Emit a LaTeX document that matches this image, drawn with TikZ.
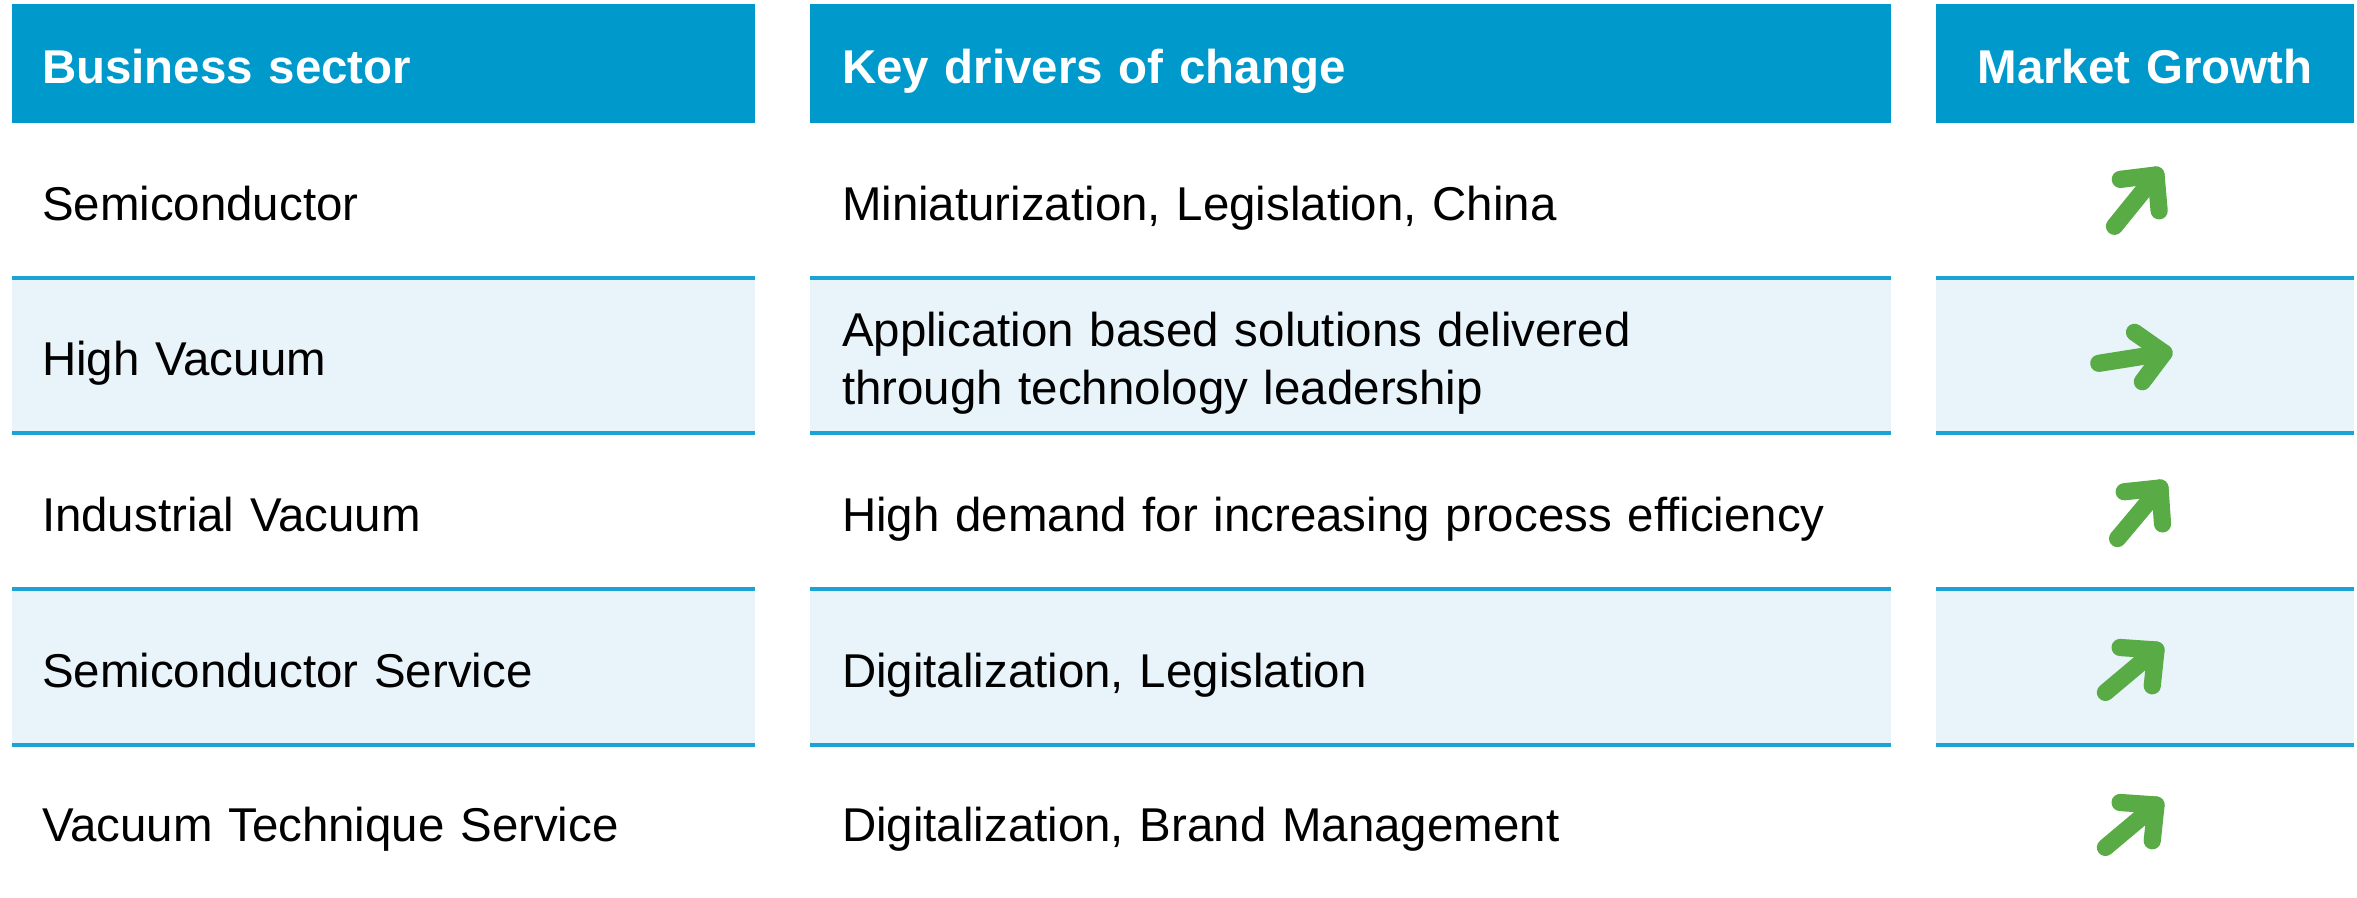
\documentclass[tikz,border=0pt]{standalone}
\usepackage{fontspec}
\setmainfont{Liberation Sans}
\usetikzlibrary{calc}

\definecolor{headblue}{HTML}{0099CC}
\definecolor{rowtint}{HTML}{E8F3FA}
\definecolor{ruleblue}{HTML}{1AA3D4}
\definecolor{growgreen}{HTML}{59AC45}

\newcommand{\topstrut}{\rule{0pt}{15.4pt}}
\newcommand{\botstrut}{\rule[-4pt]{0pt}{4pt}}

% green arrow: name, corner of the head, direction
\newcommand{\growtharrow}[3]{%
  \coordinate (#1) at #2;
  \draw[growline] ($(#1)+(#3+180:0.66)$) -- (#1);
  \draw[growline] ($(#1)+(#3+136:0.36)$) -- (#1) -- ($(#1)+(#3-136:0.36)$);
}

\begin{document}
\begin{tikzpicture}[
  head/.style = {fill = headblue, text = white, anchor = north west, outer sep = 0pt,
    minimum height = 1.19cm, inner ysep = 0pt, inner xsep = 0.30cm,
    font = \fontsize{13.5}{16.5}\selectfont\bfseries, align = left,
    execute at begin node = \topstrut, execute at end node = \botstrut},
  cell/.style = {anchor = north west, outer sep = 0pt, minimum height = 1.55cm,
    inner ysep = 0pt, inner xsep = 0.30cm,
    font = \fontsize{13.5}{16.6}\selectfont, align = left,
    execute at begin node = \topstrut, execute at end node = \botstrut},
  tint/.style = {fill = rowtint},
  rowline/.style = {draw = ruleblue, line width = 1pt},
  growline/.style = {draw = growgreen, line width = 4.9pt, line cap = round, line join = round}
]
  \useasboundingbox[fill = white] (0, 0) rectangle (23.57, 8.97);

  % header
  \node[head, text width = 6.83cm] (hsector) at (0.12, 8.93) {Business sector};
  \node[head, text width = 10.17cm, inner xsep = 0.32cm] (hdrivers) at (8.10, 8.93) {Key drivers of change};
  \node[head, text width = 3.58cm, align = center] (hgrowth) at (19.36, 8.93) {Market Growth};

  % rows
  \node[cell, text width = 6.83cm] (sec1) at (0.12, 7.74) {Semiconductor};
  \node[cell, text width = 10.17cm, inner xsep = 0.32cm] (drv1) at (8.10, 7.74) {Miniaturization, Legislation, China};
  \node[cell, text width = 3.58cm] (grw1) at (19.36, 7.74) {};

  \node[cell, tint, text width = 6.83cm] (sec2) at (0.12, 6.19) {High Vacuum};
  \node[cell, tint, text width = 10.17cm, inner xsep = 0.32cm] (drv2) at (8.10, 6.19)
    {Application based solutions delivered\\through technology leadership};
  \node[cell, tint, text width = 3.58cm] (grw2) at (19.36, 6.19) {};

  \node[cell, text width = 6.83cm, minimum height = 1.56cm] (sec3) at (0.12, 4.64) {Industrial Vacuum};
  \node[cell, text width = 10.17cm, inner xsep = 0.32cm, minimum height = 1.56cm] (drv3) at (8.10, 4.64)
    {High demand for increasing process efficiency};
  \node[cell, text width = 3.58cm, minimum height = 1.56cm] (grw3) at (19.36, 4.64) {};

  \node[cell, tint, text width = 6.83cm, minimum height = 1.56cm] (sec4) at (0.12, 3.08) {Semiconductor Service};
  \node[cell, tint, text width = 10.17cm, inner xsep = 0.32cm, minimum height = 1.56cm] (drv4) at (8.10, 3.08)
    {Digitalization, Legislation};
  \node[cell, tint, text width = 3.58cm, minimum height = 1.56cm] (grw4) at (19.36, 3.08) {};

  \node[cell, text width = 6.83cm, minimum height = 1.52cm] (sec5) at (0.12, 1.52) {Vacuum Technique Service};
  \node[cell, text width = 10.17cm, inner xsep = 0.32cm, minimum height = 1.52cm] (drv5) at (8.10, 1.52)
    {Digitalization, Brand Management};
  \node[cell, text width = 3.58cm, minimum height = 1.52cm] (grw5) at (19.36, 1.52) {};

  % row rules
  \draw[rowline]
  (sec2.north west) -- (sec2.north east) (drv2.north west) -- (drv2.north east) (grw2.north west) -- (grw2.north east)
  (sec3.north west) -- (sec3.north east) (drv3.north west) -- (drv3.north east) (grw3.north west) -- (grw3.north east)
  (sec4.north west) -- (sec4.north east) (drv4.north west) -- (drv4.north east) (grw4.north west) -- (grw4.north east)
  (sec5.north west) -- (sec5.north east) (drv5.north west) -- (drv5.north east) (grw5.north west) -- (grw5.north east);

  % market growth arrows
  \growtharrow{up1}{(21.56, 7.22)}{51}
  \growtharrow{up2}{(21.64, 5.44)}{9}
  \growtharrow{up3}{(21.60, 4.09)}{50}
  \growtharrow{up4}{(21.56, 2.47)}{40}
  \growtharrow{up5}{(21.56, 0.92)}{40}

\end{tikzpicture}
\end{document}
